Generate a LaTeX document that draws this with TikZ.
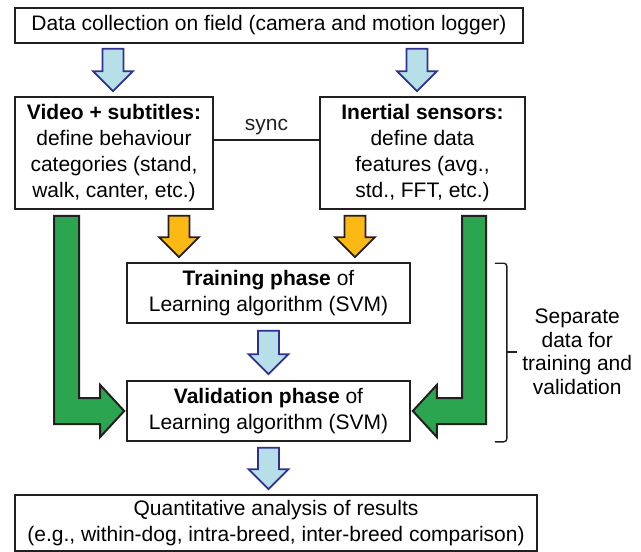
\documentclass[tikz,border=0pt]{standalone}
\usepackage{fontspec}
\setmainfont{Liberation Sans}
\usetikzlibrary{calc, positioning}

\definecolor{arrowblue}{RGB}{183,223,231}
\definecolor{edgeblue}{RGB}{46,49,146}
\definecolor{arroworange}{RGB}{253,185,19}
\definecolor{arrowgreen}{RGB}{44,165,80}
\definecolor{boxline}{RGB}{35,31,32}

% block arrow pointing down: style, top point, tip point
\newcommand{\blockdown}[3]{%
  \draw[#1] let \p1=#2, \p2=#3 in
    (\x2,\y2) -- (\x2+20pt,\y2+20pt) -- (\x2+10.5pt,\y2+20pt) -- (\x2+10.5pt,\y1)
    -- (\x2-10.5pt,\y1) -- (\x2-10.5pt,\y2+20pt) -- (\x2-20pt,\y2+20pt) -- cycle;}

\begin{document}
\begin{tikzpicture}[x=1pt, y=-1pt,
    every node/.style={font=\fontsize{21}{26}\selectfont},
    box/.style={draw=boxline, line width=1.6pt, align=center, inner sep=2pt},
    bluearrow/.style={fill=arrowblue, draw=edgeblue, line width=1.8pt},
    orangearrow/.style={fill=arroworange, draw=boxline, line width=1.8pt},
    greenarrow/.style={fill=arrowgreen, draw=boxline, line width=2pt}]
  \useasboundingbox (0,0) rectangle (641,552);

  % boxes
  \node[box, minimum width=508pt, minimum height=35pt] (data) at (269,25.5)
    {Data collection on field (camera and motion logger)};
  \node[box, minimum width=198pt, minimum height=112pt] (video) at (114,153)
    {\textbf{Video + subtitles:}\\define behaviour\\categories (stand,\\walk, canter, etc.)};
  \node[box, minimum width=205pt, minimum height=112pt] (sensor) at (422.5,153)
    {\textbf{Inertial sensors:}\\define data\\features (avg.,\\std., FFT, etc.)};
  \node[box, minimum width=283pt, minimum height=60pt] (train) at (268.5,293)
    {\textbf{Training phase} of\\Learning algorithm (SVM)};
  \node[box, minimum width=283pt, minimum height=60pt] (valid) at (268.5,411)
    {\textbf{Validation phase} of\\Learning algorithm (SVM)};
  \node[box, minimum width=522pt, minimum height=56pt] (result) at (276,523)
    {Quantitative analysis of results\\(e.g., within-dog, intra-breed, inter-breed comparison)};

  % sync line
  \draw[boxline, line width=1.6pt] ([yshift=13pt]video.east) -- node[above=1pt] (sync) {sync} ([yshift=13pt]sensor.west);

  % block arrows
  \blockdown{bluearrow}{($(data.south -| video.north)+(-1,5)$)}{($(video.north)+(-1,-5)$)}
  \blockdown{bluearrow}{($(data.south -| sensor.north)+(-5.5,5)$)}{($(sensor.north)+(-5.5,-5)$)}
  \blockdown{orangearrow}{($(video.south)+(65,6)$)}{($(train.north)+(-89.5,-5)$)}
  \blockdown{orangearrow}{($(sensor.south)+(-67.5,6)$)}{($(train.north)+(86.5,-5)$)}
  \blockdown{bluearrow}{($(train.south)+(0,7)$)}{($(valid.north)+(0,-6)$)}
  \blockdown{bluearrow}{($(valid.south)+(0,6)$)}{($(valid.south |- result.north)+(0,-5)$)}

  \draw[greenarrow] ($(video.south)+(-60,6)$) |- ($(valid.west)+(-26,13)$) -- ++(0,13)
    -- ($(valid.west)+(-2,0)$) -- ++(-24,-26) -- ++(0,13) -| ($(video.south)+(-35,6)$) -- cycle;
  \draw[greenarrow] ($(sensor.south)+(63.5,6)$) |- ($(valid.east)+(26,13)$) -- ++(0,13)
    -- ($(valid.east)+(2,0)$) -- ++(24,-26) -- ++(0,13) -| ($(sensor.south)+(39.5,6)$) -- cycle;

  % bracket and note
  \draw[boxline, line width=1.4pt, rounded corners=3pt] ($(train.north east)+(84,1)$)
    -| ($(valid.south east)+(96,0)$) -- ++(-12,0);
  \coordinate (brmid) at ($(train.north east)!0.5!(valid.south east)+(96,0)$);
  \draw[boxline, line width=1.4pt] (brmid) -- ++(10,0) coordinate (brtip);
  \node[align=center, font=\fontsize{21}{23.5}\selectfont, right=2pt of brtip] (note)
    {Separate\\data for\\training and\\validation};
\end{tikzpicture}
\end{document}
